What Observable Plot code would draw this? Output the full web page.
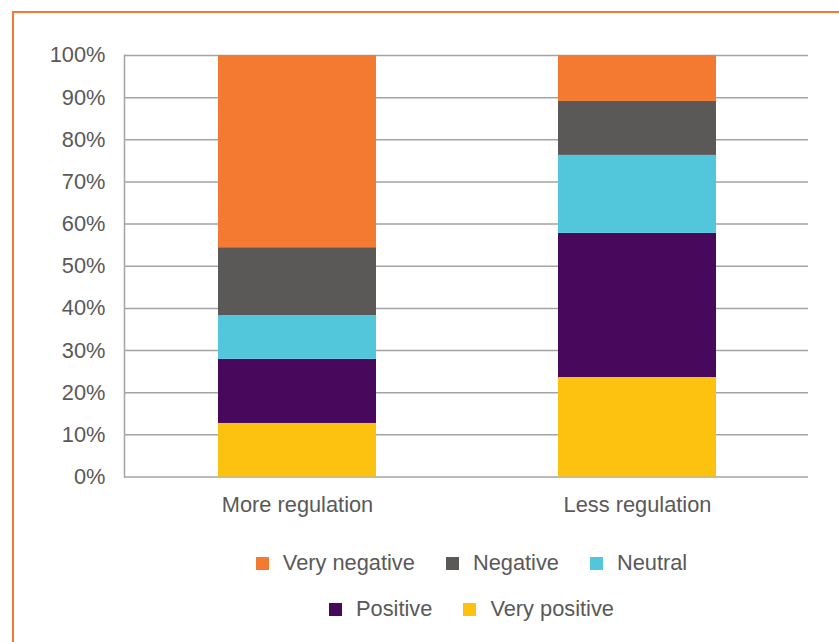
<!DOCTYPE html>
<html>
<head>
<meta charset="utf-8">
<script src="https://cdn.jsdelivr.net/npm/d3@7"></script>
<script src="https://cdn.jsdelivr.net/npm/@observablehq/plot@0.6"></script>
<style>
  html, body { margin: 0; padding: 0; background: #fff; overflow: hidden; }
  #wrap { position: relative; width: 839px; height: 642px; overflow: hidden; font-family: "Liberation Sans", Arial, Helvetica, sans-serif; }
  #border { position: absolute; left: 12px; top: 11px; right: -20px; bottom: -20px;
            border-left: 2.5px solid #F47A32; border-top: 2.5px solid #F47A32; }
  #chart { position: absolute; left: 0; top: 0; }
  .legend-row { position: absolute; left: 52px; width: 839px; height: 24px; line-height: 24px;
                display: flex; justify-content: center; align-items: center; gap: 31px;
                font-size: 21.8px; color: #595959; }
  .legend-item { display: flex; align-items: center; gap: 14px; white-space: nowrap; }
  .swatch { width: 13px; height: 13px; display: inline-block; }
</style>
</head>
<body>
<div id="wrap">
  <div id="border"></div>
  <div id="chart"></div>
  <div class="legend-row" id="legend1" style="top:551px"></div>
  <div class="legend-row" id="legend2" style="top:597px"></div>
</div>
<script>
// Survey answers by stance on regulation (share of respondents, %)
const categories = ["More regulation", "Less regulation"];
const responses = ["Very positive", "Positive", "Neutral", "Negative", "Very negative"];
const moreRegulation = [12.7, 15.2, 10.4, 16.1, 45.6];
const lessRegulation = [23.6, 34.2, 18.5, 12.8, 10.9];
const colors = ["#FDC210", "#48095C", "#52C7DC", "#5A5958", "#F47A32"];
const yTicks = [0, 10, 20, 30, 40, 50, 60, 70, 80, 90, 100];
const legendRows = [["Very negative", "Negative", "Neutral"], ["Positive", "Very positive"]];

// Long table: stacked bottom-up in response order
const table = [];
[moreRegulation, lessRegulation].forEach((vals, i) => {
  vals.forEach((v, j) => table.push({category: categories[i], response: responses[j], value: v}));
});

const font = "Liberation Sans, Arial, Helvetica, sans-serif";
const gridColor = "#a3a3a3";
const fontSize = 21.8;

const chart = Plot.plot({
  width: 839,
  height: 530,
  marginTop: 55,
  marginBottom: 53.5,
  marginLeft: 124,
  marginRight: 31,
  style: {fontFamily: font, fontSize: fontSize + "px", color: "#595959", background: "transparent"},
  x: {domain: categories, paddingInner: 0.535, paddingOuter: 0.272, align: 0.508, label: null},
  y: {domain: [0, 100], label: null},
  color: {domain: responses, range: colors},
  marks: [
    Plot.gridY(yTicks, {stroke: gridColor, strokeOpacity: 1, strokeWidth: 1.5}),
    Plot.frame({anchor: "left", stroke: gridColor, strokeWidth: 1.5}),
    Plot.barY(table, {x: "category", y: "value", fill: "response", order: null}),
    Plot.axisY(yTicks, {tickSize: 0, tickPadding: 19, tickFormat: d => d + "%", fill: "#595959", fontSize, label: null}),
    Plot.axisX({tickSize: 0, tickPadding: 19.5, fill: "#595959", fontSize, label: null})
  ]
});
document.getElementById("chart").appendChild(chart);

// Legend rows below the chart
const colorOf = Object.fromEntries(responses.map((r, i) => [r, colors[i]]));
legendRows.forEach((row, k) => {
  const el = document.getElementById("legend" + (k + 1));
  row.forEach(name => {
    const item = document.createElement("div");
    item.className = "legend-item";
    const sw = document.createElement("span");
    sw.className = "swatch";
    sw.style.background = colorOf[name];
    const label = document.createElement("span");
    label.textContent = name;
    item.appendChild(sw);
    item.appendChild(label);
    el.appendChild(item);
  });
});
</script>
</body>
</html>
